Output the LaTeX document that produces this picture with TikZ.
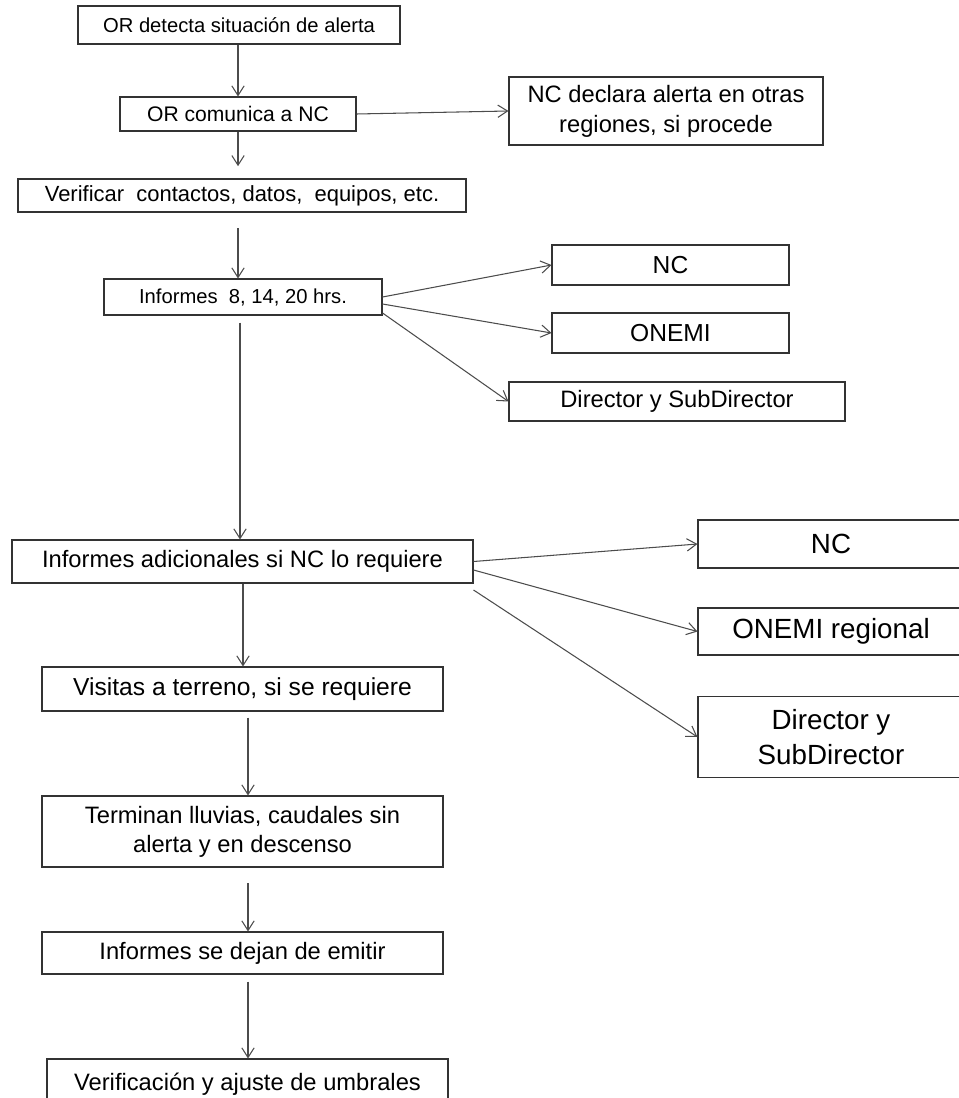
\documentclass[tikz,border=0pt]{standalone}
\usepackage{fontspec}
\setmainfont{Liberation Sans}
\usetikzlibrary{arrows.meta}

\tikzset{
  box/.style 2 args={draw=black!80, line width=0.6pt, inner sep=0pt, align=center,
    minimum width=#1*0.02cm, minimum height=#2*0.02cm},
  link/.style={draw=black!70, line width=0.6pt, -{Straight Barb[length=5.5pt,width=7pt]}},
  txtS/.style={font=\fontsize{11.5}{14}\selectfont},
  txtM/.style={font=\fontsize{13.5}{16.5}\selectfont},
  txtL/.style={font=\fontsize{15.8}{20}\selectfont},
}

\begin{document}
\begin{tikzpicture}[x=0.02cm, y=-0.02cm]
    \useasboundingbox (0,0) rectangle (958,1098);
    % main column
    \node[box={322}{38}, txtS] (or) at (239,25) {OR detecta situación de alerta};
    \node[box={236}{34}, font=\fontsize{12}{14}\selectfont] (com) at (238,114) {OR comunica a NC};
    \node[box={448}{33}, font=\fontsize{12.5}{15}\selectfont] (ver) at (242,195.5) {Verificar\ \ contactos, datos,\ \ equipos, etc.};
    \node[box={278}{36}, txtS] (inf) at (243,297) {Informes\ \ 8, 14, 20 hrs.};
    \node[box={461}{43}, txtM] (adic) at (242.5,561.5) {Informes adicionales si NC lo requiere};
    \node[box={401}{44}, font=\fontsize{14}{16}\selectfont] (vis) at (242.5,689) {Visitas a terreno, si se requiere};
    \node[box={401}{71}, txtM] (term) at (242.5,831.5) {Terminan lluvias, caudales sin\\alerta y en descenso};
    \node[box={401}{42}, txtM] (dej) at (242.5,953) {Informes se dejan de emitir};
    \node[box={401}{50}, txtM] (umb) at (247.5,1084) {Verificación y ajuste de umbrales};
    % side boxes
    \node[box={314}{68}, font=\fontsize{13.5}{17}\selectfont] (decl) at (666,111) {NC declara alerta en otras\\regiones, si procede};
    \node[box={237}{40}, font=\fontsize{14}{16}\selectfont] (nc1) at (670.5,265) {NC};
    \node[box={237}{40}, font=\fontsize{14}{16}\selectfont] (onemi1) at (670.5,333) {ONEMI};
    \node[box={336}{39}, font=\fontsize{13.5}{16}\selectfont] (dir1) at (677,401.5) {Director y SubDirector};
    \node[box={266}{48}, txtL] (nc2) at (831,544) {NC};
    \node[box={266}{47}, txtL] (onemi2) at (831,631.5) {ONEMI regional};
    \node[box={266}{81}, txtL] (dir2) at (831,737) {Director y\\SubDirector};

    % arrows
    \draw[link] (238,0 |- or.south) -- (238,0 |- com.north);
    \draw[link, shorten >=7pt] (238,0 |- com.south) -- (238,0 |- ver.north);
    \draw[link] (com.east) -- (decl.west);
    \draw[link, shorten <=9pt] (238,0 |- ver.south) -- (238,0 |- inf.north);
    \draw[link] (inf.east) -- (nc1.west);
    \draw[link] (inf.east |- 0,304) -- (onemi1.west);
    \draw[link] (inf.east |- 0,313) -- (dir1.west);
    \draw[link, shorten <=4pt] (240,0 |- inf.south) -- (240,0 |- adic.north);
    \draw[link] (adic.east) -- (nc2.west);
    \draw[link] (adic.east |- 0,570) -- (onemi2.west);
    \draw[link] (adic.east |- 0,590) -- (dir2.west);
    \draw[link] (243,0 |- adic.south) -- (243,0 |- vis.north);
    \draw[link, shorten <=3.5pt] (248,0 |- vis.south) -- (248,0 |- term.north);
    \draw[link, shorten <=9pt] (248,0 |- term.south) -- (248,0 |- dej.north);
    \draw[link, shorten <=4pt] (248,0 |- dej.south) -- (248,0 |- umb.north);
\end{tikzpicture}
\end{document}
